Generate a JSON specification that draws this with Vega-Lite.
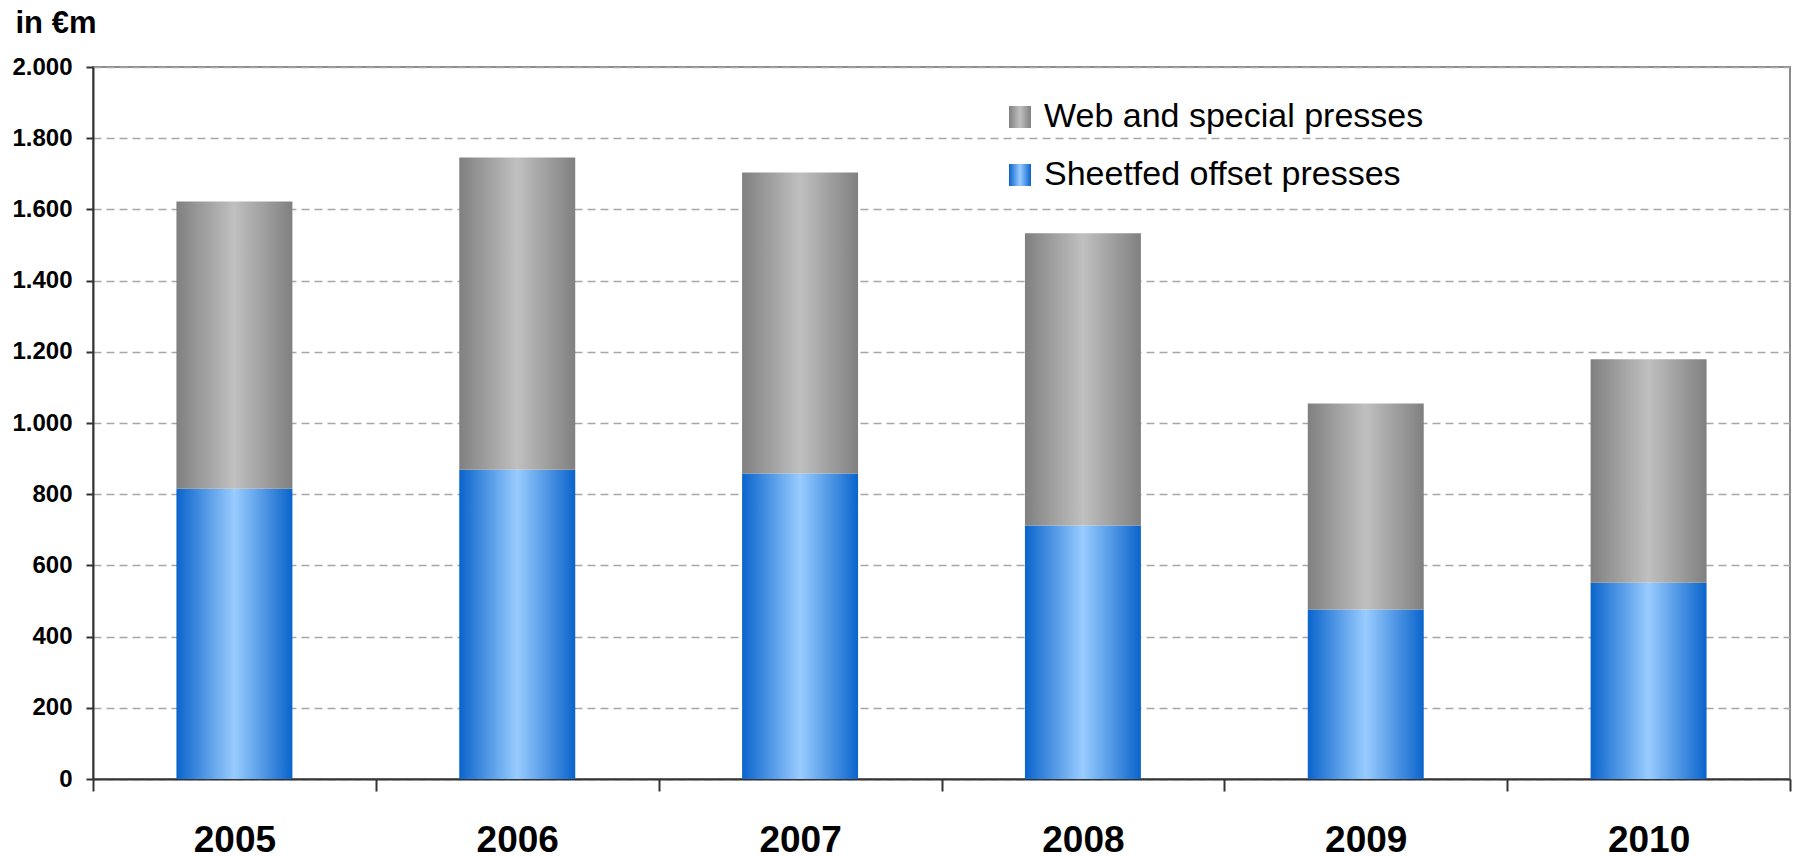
{
  "$schema": "https://vega.github.io/schema/vega-lite/v6.json",
  "autosize": "none",
  "width": 1697,
  "height": 712,
  "padding": {"left": 93, "top": 67, "right": 7, "bottom": 79},
  "background": "white",
  "config": {
    "font": "Liberation Sans",
    "view": {"stroke": "#8C8C8C", "strokeWidth": 2},
    "legend": {
      "title": null,
      "orient": "none",
      "legendX": 910,
      "symbolType": "square",
      "symbolSize": 484,
      "symbolStrokeWidth": 0,
      "labelFontSize": 34,
      "labelColor": "black",
      "labelOffset": 7,
      "labelLimit": 0
    }
  },
  "data": {
    "values": [
      {"year": "2005", "series": "Sheetfed offset presses", "value": 815},
      {"year": "2005", "series": "Web and special presses", "value": 807},
      {"year": "2006", "series": "Sheetfed offset presses", "value": 869},
      {"year": "2006", "series": "Web and special presses", "value": 877},
      {"year": "2007", "series": "Sheetfed offset presses", "value": 858},
      {"year": "2007", "series": "Web and special presses", "value": 846},
      {"year": "2008", "series": "Sheetfed offset presses", "value": 712},
      {"year": "2008", "series": "Web and special presses", "value": 821},
      {"year": "2009", "series": "Sheetfed offset presses", "value": 476},
      {"year": "2009", "series": "Web and special presses", "value": 579},
      {"year": "2010", "series": "Sheetfed offset presses", "value": 551},
      {"year": "2010", "series": "Web and special presses", "value": 628}
    ]
  },
  "transform": [
    {"stack": "value", "groupby": ["year"], "sort": [{"field": "series", "order": "ascending"}], "as": ["v0", "v1"]}
  ],
  "encoding": {
    "x": {
      "field": "year",
      "type": "nominal",
      "scale": {"paddingInner": 0, "paddingOuter": 0},
      "axis": {
        "title": null,
        "labelAngle": 0,
        "labelFontSize": 37,
        "labelFontWeight": "bold",
        "labelColor": "black",
        "labelBaseline": "alphabetic",
        "labelPadding": 60,
        "tickBand": "extent",
        "tickSize": 12,
        "tickColor": "#333333",
        "tickWidth": 2,
        "domainColor": "#333333",
        "domainWidth": 2,
        "grid": false
      }
    },
    "y": {
      "field": "v1",
      "type": "quantitative",
      "scale": {"domain": [0, 2000], "nice": false},
      "axis": {
        "title": "in €m",
        "titleAngle": 0,
        "titleX": -78,
        "titleY": -35,
        "titleAlign": "left",
        "titleBaseline": "alphabetic",
        "titleFontSize": 31,
        "titleFontWeight": "bold",
        "titleColor": "black",
        "values": [0, 200, 400, 600, 800, 1000, 1200, 1400, 1600, 1800, 2000],
        "labelExpr": "replace(format(datum.value, ','), ',', '.')",
        "labelFontSize": 24,
        "labelFontWeight": "bold",
        "labelColor": "black",
        "labelPadding": 14,
        "tickSize": 7,
        "tickColor": "#333333",
        "tickWidth": 2,
        "domainColor": "#333333",
        "domainWidth": 2,
        "grid": true,
        "gridColor": "#A6A6A6",
        "gridDash": [8, 5],
        "gridWidth": 1.5
      }
    },
    "y2": {"field": "v0"}
  },
  "layer": [
    {
      "transform": [{"filter": "datum.series === 'Sheetfed offset presses'"}],
      "mark": {
        "type": "bar",
        "width": {"band": 0.41},
        "fill": {"gradient": "linear", "x1": 0, "y1": 0, "x2": 1, "y2": 0,
          "stops": [
            {"offset": 0, "color": "#0A64CC"},
            {"offset": 0.5, "color": "#99CCFF"},
            {"offset": 1, "color": "#0A64CC"}
          ]}
      },
      "encoding": {
        "opacity": {
          "field": "series",
          "type": "nominal",
          "scale": {"type": "ordinal", "domain": ["Sheetfed offset presses"], "range": [1]},
          "legend": {"legendY": 91}
        }
      }
    },
    {
      "transform": [{"filter": "datum.series === 'Web and special presses'"}],
      "mark": {
        "type": "bar",
        "width": {"band": 0.41},
        "fill": {"gradient": "linear", "x1": 0, "y1": 0, "x2": 1, "y2": 0,
          "stops": [
            {"offset": 0, "color": "#808080"},
            {"offset": 0.5, "color": "#C0C0C0"},
            {"offset": 1, "color": "#808080"}
          ]}
      },
      "encoding": {
        "opacity": {
          "field": "series",
          "type": "nominal",
          "scale": {"type": "ordinal", "domain": ["Web and special presses"], "range": [1]},
          "legend": {"legendY": 33}
        }
      }
    }
  ],
  "resolve": {
    "scale": {"opacity": "independent"},
    "legend": {"opacity": "independent"}
  }
}
